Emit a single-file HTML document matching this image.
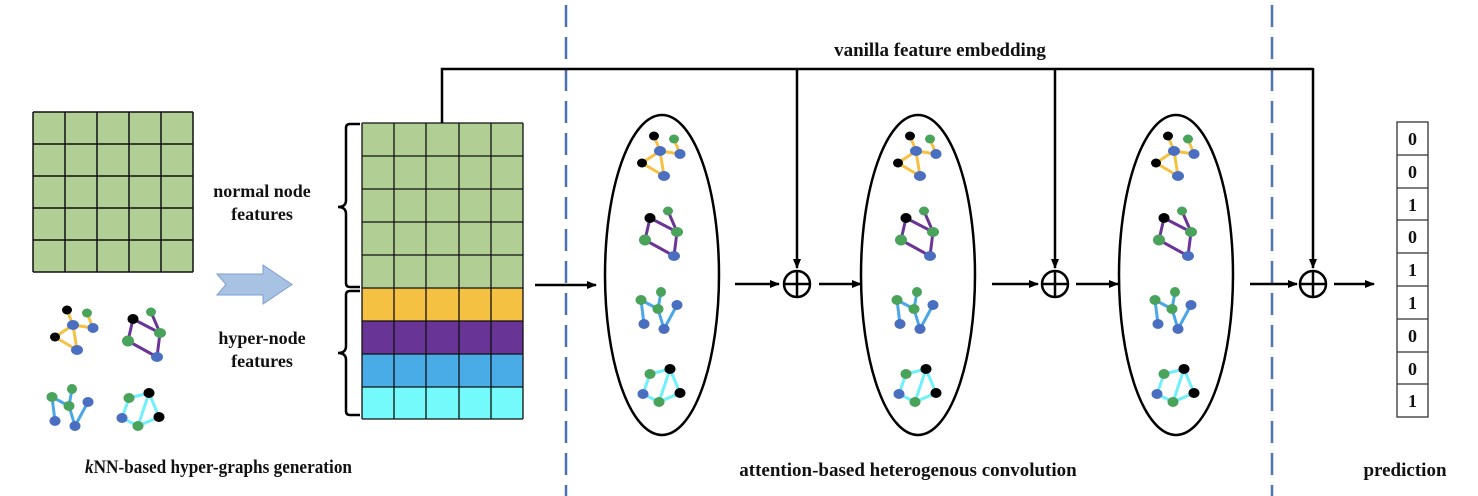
<!DOCTYPE html>
<html><head><meta charset="utf-8"><style>
html,body{margin:0;padding:0;background:#fff;}
svg{display:block;}
text{font-family:"Liberation Serif",serif;font-weight:bold;fill:#111;}
</style></head><body>
<svg width="1478" height="496" viewBox="0 0 1478 496" xmlns="http://www.w3.org/2000/svg">
<defs>
<marker id="ah" markerWidth="10" markerHeight="10" refX="9" refY="5" orient="auto" markerUnits="userSpaceOnUse">
<path d="M0,1 L10,5 L0,9 Z" fill="#000"/></marker>
<g id="gy">
<g stroke="#f4c142" stroke-width="3"><line x1="-6" y1="-15" x2="0" y2="0"/><line x1="14" y1="-12" x2="20" y2="3"/><line x1="0" y1="0" x2="20" y2="3"/><line x1="0" y1="0" x2="-18" y2="12"/><line x1="-18" y1="12" x2="4" y2="25"/><line x1="0" y1="0" x2="4" y2="25"/></g>
<ellipse cx="-6" cy="-15" rx="5" ry="4.5" fill="#000"/><ellipse cx="14" cy="-12" rx="5" ry="4.5" fill="#4aa35a"/><ellipse cx="0" cy="0" rx="6" ry="5" fill="#4a6fc0"/><ellipse cx="20" cy="3" rx="5.5" ry="5" fill="#4a6fc0"/><ellipse cx="-18" cy="12" rx="5" ry="4.5" fill="#000"/><ellipse cx="4" cy="25" rx="6" ry="5" fill="#4a6fc0"/>
</g>
<g id="gp">
<g stroke="#6a3597" stroke-width="3"><line x1="-12" y1="-16" x2="15" y2="-2"/><line x1="6" y1="-23" x2="15" y2="-2"/><line x1="15" y1="-2" x2="12" y2="22"/><line x1="-12" y1="-16" x2="-17" y2="6"/><line x1="-17" y1="6" x2="12" y2="22"/></g>
<ellipse cx="-12" cy="-16" rx="5.5" ry="5" fill="#000"/><ellipse cx="6" cy="-23" rx="5" ry="4.5" fill="#4aa35a"/><ellipse cx="15" cy="-2" rx="6" ry="5" fill="#4aa35a"/><ellipse cx="-17" cy="6" rx="6" ry="5.5" fill="#4aa35a"/><ellipse cx="12" cy="22" rx="6" ry="5" fill="#4a6fc0"/>
</g>
<g id="gb">
<g stroke="#4aa6e6" stroke-width="3"><line x1="-18" y1="-11" x2="-1" y2="-2"/><line x1="2" y1="-19" x2="-1" y2="-2"/><line x1="-18" y1="-11" x2="-15" y2="13"/><line x1="-1" y1="-2" x2="5" y2="18"/><line x1="5" y1="18" x2="18" y2="-6"/></g>
<ellipse cx="-18" cy="-11" rx="5.5" ry="5" fill="#4aa35a"/><ellipse cx="2" cy="-19" rx="5" ry="5" fill="#4aa35a"/><ellipse cx="-1" cy="-2" rx="5.5" ry="5" fill="#4aa35a"/><ellipse cx="18" cy="-6" rx="5.5" ry="5" fill="#4a6fc0"/><ellipse cx="-15" cy="13" rx="5.5" ry="5" fill="#4a6fc0"/><ellipse cx="5" cy="18" rx="5.5" ry="5" fill="#4a6fc0"/>
</g>
<g id="gc">
<g stroke="#6ff0fb" stroke-width="3"><line x1="-11" y1="-12" x2="9" y2="-17"/><line x1="-11" y1="-12" x2="-18" y2="8"/><line x1="-18" y1="8" x2="-2" y2="16"/><line x1="-2" y1="16" x2="19" y2="7"/><line x1="9" y1="-17" x2="19" y2="7"/><line x1="9" y1="-17" x2="-2" y2="16"/></g>
<ellipse cx="-11" cy="-12" rx="5.5" ry="5" fill="#4aa35a"/><ellipse cx="9" cy="-17" rx="5.5" ry="5" fill="#000"/><ellipse cx="19" cy="7" rx="5.5" ry="5" fill="#000"/><ellipse cx="-18" cy="8" rx="5.5" ry="5" fill="#4a6fc0"/><ellipse cx="-2" cy="16" rx="5.5" ry="5" fill="#4aa35a"/>
</g>
<g id="ell">
<ellipse cx="0" cy="0" rx="57" ry="160" fill="none" stroke="#000" stroke-width="2.5"/>
<use href="#gy" x="-2" y="-124"/><use href="#gp" x="0" y="-41"/><use href="#gb" x="-3" y="36"/><use href="#gc" x="-1" y="111"/>
</g>
<g id="oplus"><circle cx="0" cy="0" r="13" fill="#fff" stroke="#000" stroke-width="2.5"/><line x1="-13" y1="0" x2="13" y2="0" stroke="#000" stroke-width="2.5"/><line x1="0" y1="-13" x2="0" y2="13" stroke="#000" stroke-width="2.5"/></g>
</defs>

<!-- left grid -->
<rect x="33" y="112" width="160" height="160" fill="#b1cf95"/>
<g stroke="#111" stroke-width="1.5">
<line x1="33" y1="112" x2="193" y2="112"/><line x1="33" y1="144" x2="193" y2="144"/><line x1="33" y1="176" x2="193" y2="176"/><line x1="33" y1="208" x2="193" y2="208"/><line x1="33" y1="240" x2="193" y2="240"/><line x1="33" y1="272" x2="193" y2="272"/>
<line x1="33" y1="112" x2="33" y2="272"/><line x1="65" y1="112" x2="65" y2="272"/><line x1="97" y1="112" x2="97" y2="272"/><line x1="129" y1="112" x2="129" y2="272"/><line x1="161" y1="112" x2="161" y2="272"/><line x1="193" y1="112" x2="193" y2="272"/>
</g>
<use href="#gy" x="73" y="325"/><use href="#gp" x="145" y="335"/><use href="#gb" x="70" y="408"/><use href="#gc" x="140" y="410"/>

<!-- big arrow -->
<path d="M217,274 L263,274 L263,265 L292,284.5 L263,304 L263,295 L217,295 L226,284.5 Z" fill="#a7c2e3" stroke="#7e9fd0" stroke-width="1"/>

<!-- matrix -->
<rect x="362" y="123" width="161" height="165" fill="#b1cf95"/>
<rect x="362" y="288" width="161" height="33" fill="#f4c142"/>
<rect x="362" y="321" width="161" height="33" fill="#683597"/>
<rect x="362" y="354" width="161" height="33" fill="#4aace6"/>
<rect x="362" y="387" width="161" height="32" fill="#74fafb"/>
<g stroke="#111" stroke-width="1.3">
<line x1="362" y1="123" x2="523" y2="123"/><line x1="362" y1="156" x2="523" y2="156"/><line x1="362" y1="189" x2="523" y2="189"/><line x1="362" y1="222" x2="523" y2="222"/><line x1="362" y1="255" x2="523" y2="255"/><line x1="362" y1="288" x2="523" y2="288"/><line x1="362" y1="321" x2="523" y2="321"/><line x1="362" y1="354" x2="523" y2="354"/><line x1="362" y1="387" x2="523" y2="387"/><line x1="362" y1="419" x2="523" y2="419"/>
<line x1="362" y1="123" x2="362" y2="419"/><line x1="394" y1="123" x2="394" y2="419"/><line x1="426" y1="123" x2="426" y2="419"/><line x1="459" y1="123" x2="459" y2="419"/><line x1="491" y1="123" x2="491" y2="419"/><line x1="523" y1="123" x2="523" y2="419"/>
</g>
<!-- braces -->
<path d="M360,124 L350,124 Q346,124 346,128 L346,200 Q346,207 338,207 Q346,207 346,214 L346,283 Q346,287 350,287 L360,287" fill="none" stroke="#000" stroke-width="2.5"/>
<path d="M360,291 L350,291 Q346,291 346,295 L346,346 Q346,353 338,353 Q346,353 346,360 L346,411 Q346,415 350,415 L360,415" fill="none" stroke="#000" stroke-width="2.5"/>
<text x="262" y="197" font-size="18" text-anchor="middle">normal node</text>
<text x="262" y="220" font-size="18" text-anchor="middle">features</text>
<text x="262" y="344" font-size="18" text-anchor="middle">hyper-node</text>
<text x="262" y="367" font-size="18" text-anchor="middle">features</text>

<!-- dashed lines -->
<line x1="566" y1="5" x2="566" y2="496" stroke="#4a72b0" stroke-width="2.5" stroke-dasharray="22,10"/>
<line x1="1272" y1="5" x2="1272" y2="496" stroke="#4a72b0" stroke-width="2.5" stroke-dasharray="22,10"/>

<!-- vanilla connector -->
<path d="M442,123 L442,69 L1313,69" fill="none" stroke="#000" stroke-width="2.5"/>
<line x1="797" y1="69" x2="797" y2="268" stroke="#000" stroke-width="2.5" marker-end="url(#ah)"/>
<line x1="1055" y1="69" x2="1055" y2="268" stroke="#000" stroke-width="2.5" marker-end="url(#ah)"/>
<line x1="1313" y1="68" x2="1313" y2="268" stroke="#000" stroke-width="2.5" marker-end="url(#ah)"/>
<text x="940" y="56" font-size="19" text-anchor="middle">vanilla feature embedding</text>

<!-- ellipses -->
<use href="#ell" x="662" y="275"/><use href="#ell" x="918" y="275"/><use href="#ell" x="1176" y="275"/>
<use href="#oplus" x="797" y="284"/><use href="#oplus" x="1055" y="284"/><use href="#oplus" x="1313" y="284"/>

<g stroke="#000" stroke-width="2.5" marker-end="url(#ah)">
<line x1="535" y1="285" x2="596" y2="285"/>
<line x1="735" y1="284" x2="779" y2="284"/>
<line x1="819" y1="284" x2="861" y2="284"/>
<line x1="992" y1="284" x2="1038" y2="284"/>
<line x1="1076" y1="284" x2="1118" y2="284"/>
<line x1="1250" y1="284" x2="1297" y2="284"/>
<line x1="1334" y1="284" x2="1374" y2="284"/>
</g>

<!-- prediction vector -->
<g stroke="#333" stroke-width="1.3" fill="#fff">
<rect x="1397" y="122" width="31" height="295"/>
<line x1="1397" y1="155" x2="1428" y2="155"/><line x1="1397" y1="188" x2="1428" y2="188"/><line x1="1397" y1="220" x2="1428" y2="220"/><line x1="1397" y1="253" x2="1428" y2="253"/><line x1="1397" y1="286" x2="1428" y2="286"/><line x1="1397" y1="319" x2="1428" y2="319"/><line x1="1397" y1="352" x2="1428" y2="352"/><line x1="1397" y1="384" x2="1428" y2="384"/>
</g>
<g font-size="18" text-anchor="middle">
<text x="1412.5" y="145">0</text><text x="1412.5" y="178">0</text><text x="1412.5" y="211">1</text><text x="1412.5" y="243">0</text><text x="1412.5" y="276">1</text><text x="1412.5" y="309">1</text><text x="1412.5" y="342">0</text><text x="1412.5" y="375">0</text><text x="1412.5" y="407">1</text>
</g>

<!-- bottom labels -->
<text x="85" y="473" font-size="19" textLength="267" lengthAdjust="spacingAndGlyphs"><tspan font-style="italic">k</tspan>NN-based hyper-graphs generation</text>
<text x="908" y="476" font-size="19" text-anchor="middle">attention-based heterogenous convolution</text>
<text x="1405" y="476" font-size="19" text-anchor="middle">prediction</text>
</svg>
</body></html>
